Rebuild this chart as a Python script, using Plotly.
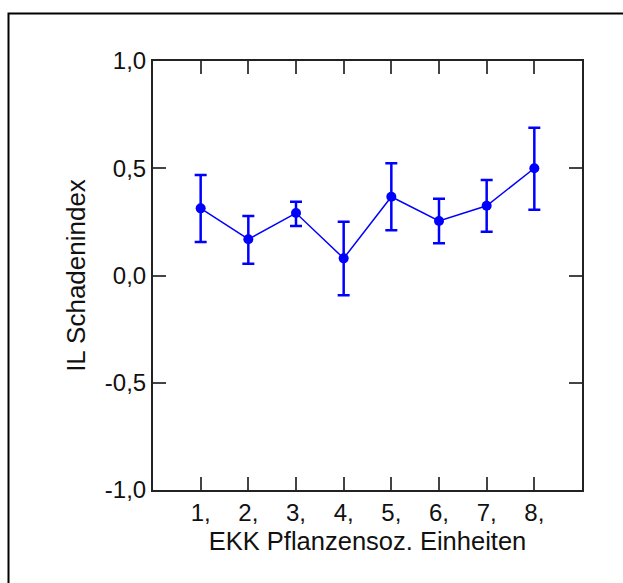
import plotly.graph_objects as go

categories = [1, 2, 3, 4, 5, 6, 7, 8]
cat_labels = ["1,", "2,", "3,", "4,", "5,", "6,", "7,", "8,"]
means = [0.313, 0.169, 0.291, 0.080, 0.367, 0.254, 0.325, 0.500]
err_upper = [0.469, 0.277, 0.344, 0.251, 0.523, 0.358, 0.445, 0.689]
err_lower = [0.156, 0.055, 0.231, -0.092, 0.211, 0.150, 0.204, 0.307]
y_ticks = [-1.0, -0.5, 0.0, 0.5, 1.0]
y_tick_labels = ["-1,0", "-0,5", "0,0", "0,5", "1,0"]

plus = [u - m for u, m in zip(err_upper, means)]
minus = [m - l for m, l in zip(means, err_lower)]

W, H = 623, 583
L, R, T, B = 153, 41, 61, 93
pw, ph = W - L - R, H - T - B

FONT = "Liberation Sans, Arial"

fig = go.Figure()
fig.add_trace(go.Scatter(
    x=categories, y=means, mode="lines+markers",
    line=dict(color="#0000FF", width=1.5),
    marker=dict(color="#0000FF", size=10),
    error_y=dict(type="data", symmetric=False, array=plus, arrayminus=minus,
                 color="#0000FF", thickness=2.5, width=6),
    showlegend=False,
))

axis_common = dict(
    showline=True, linecolor="#222222", linewidth=2, mirror="ticks",
    ticks="inside", ticklen=13, tickwidth=1.5, tickcolor="#444444",
    showgrid=False, zeroline=False,
    tickfont=dict(family=FONT, size=24, color="#111111"),
)

fig.update_layout(
    width=W, height=H,
    margin=dict(l=L, r=R, t=T, b=B),
    plot_bgcolor="white", paper_bgcolor="white",
    xaxis=dict(range=[0, 9], tickvals=categories, ticktext=cat_labels,
               title=dict(text="EKK Pflanzensoz. Einheiten", standoff=7,
                          font=dict(family=FONT, size=25.5, color="#111111")),
               **axis_common),
    yaxis=dict(range=[-1, 1], tickvals=y_ticks, ticktext=y_tick_labels,
               title=dict(text="IL Schadenindex", standoff=12,
                          font=dict(family=FONT, size=26, color="#111111")),
               **axis_common),
)

# outer frame (top and left edges visible)
bx = (8.5 - L) / pw
by = (H - B - 13.5) / ph
fig.add_shape(type="path", xref="paper", yref="paper",
              path=f"M {bx} -1 L {bx} {by} L 3 {by}",
              line=dict(color="black", width=2))

fig.write_html("out.html")
